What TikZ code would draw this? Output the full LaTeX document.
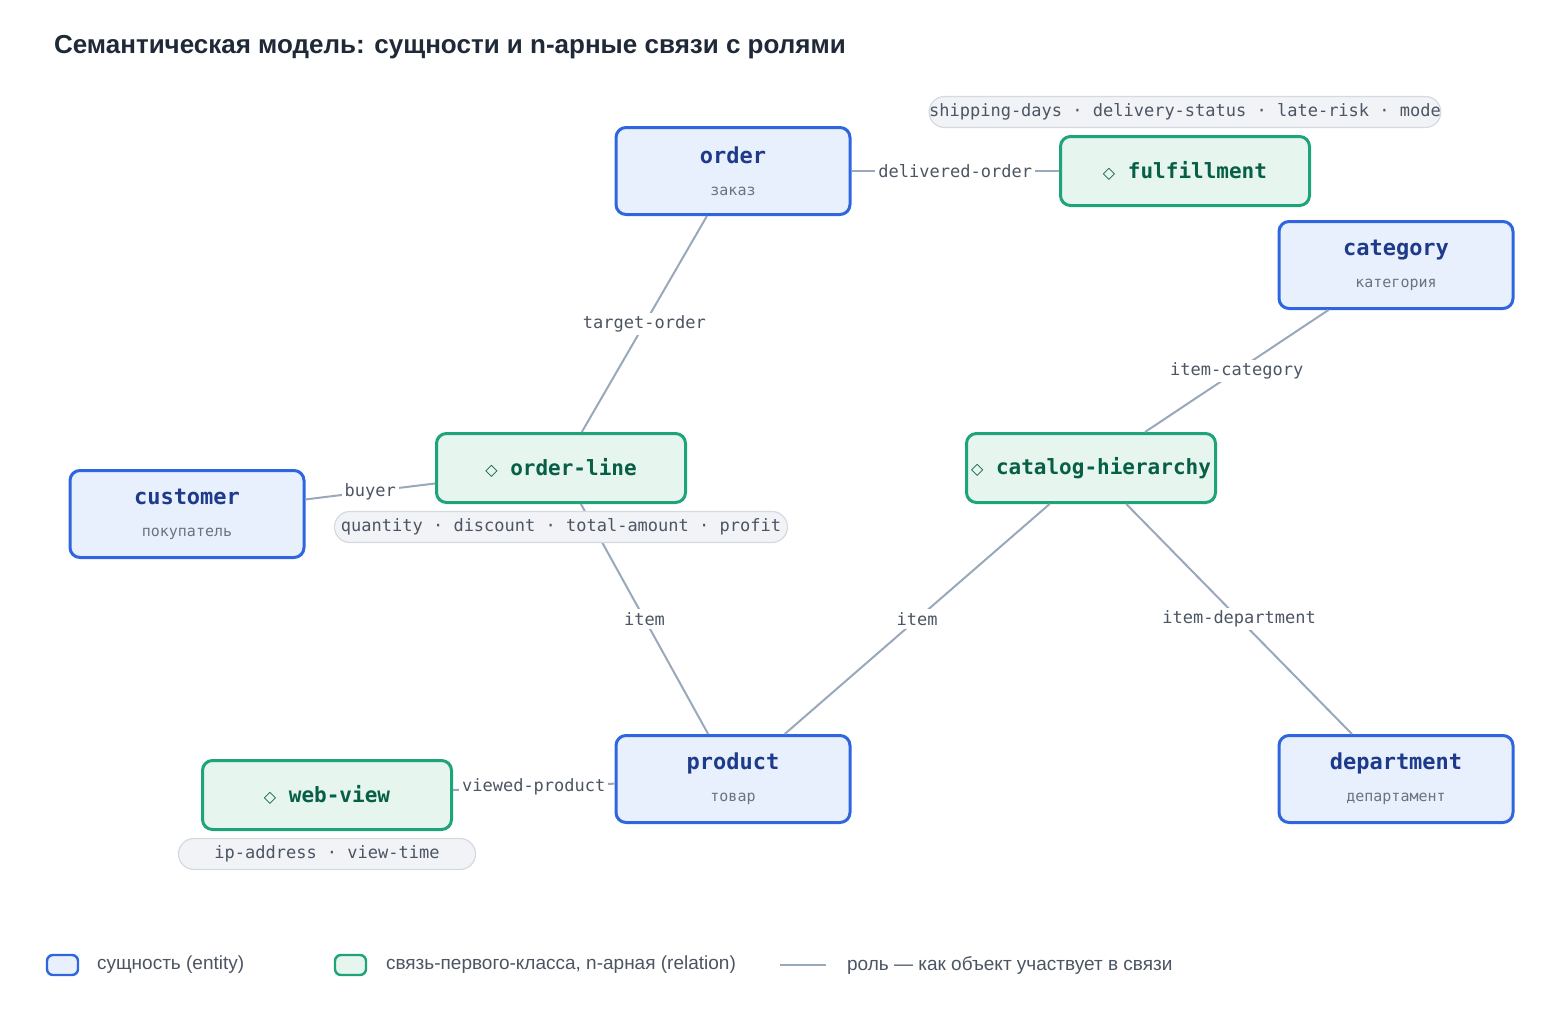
\documentclass[tikz,border=0pt]{standalone}
\usepackage{fontspec}
\setmainfont{Liberation Sans}
\setmonofont{DejaVu Sans Mono}
\newfontfamily\symf{DejaVu Sans}
\definecolor{entfill}{HTML}{E8F0FD}
\definecolor{entdraw}{HTML}{2F66E0}
\definecolor{enttext}{HTML}{1E3A8A}
\definecolor{relfill}{HTML}{E6F5EE}
\definecolor{reldraw}{HTML}{1FA37A}
\definecolor{reltext}{HTML}{065F46}
\definecolor{edgec}{HTML}{9AA8BC}
\definecolor{pillfill}{HTML}{F1F3F6}
\definecolor{pilldraw}{HTML}{D5DAE1}
\definecolor{pilltext}{HTML}{4B5563}
\definecolor{subc}{HTML}{6B7280}
\definecolor{titlec}{HTML}{1F2937}
\begin{document}
\begin{tikzpicture}[x=0.5pt,y=-0.5pt,
 ent/.style={draw=entdraw,fill=entfill,line width=1.5pt,rounded corners=5pt,minimum width=117pt,minimum height=43.5pt,align=center,inner sep=0pt},
 rel/.style={draw=reldraw,fill=relfill,line width=1.5pt,rounded corners=5pt,minimum width=124.5pt,minimum height=34.5pt,inner sep=0pt,text=reltext,font=\ttfamily\bfseries\fontsize{10.5}{12}\selectfont},
 pill/.style={draw=pilldraw,fill=pillfill,line width=0.6pt,rounded corners=7.75pt,minimum height=15.5pt,inner sep=0pt,text=pilltext,font=\ttfamily\fontsize{8.5}{10}\selectfont},
 edge/.style={draw=edgec,line width=1pt},
 lab/.style={fill=white,inner sep=1.5pt,text=pilltext,font=\ttfamily\fontsize{8.5}{10}\selectfont},
]
\useasboundingbox[fill=white] (0,0) rectangle (1560,1029);
\newcommand{\ent}[2]{{\ttfamily\bfseries\fontsize{11}{13}\selectfont\textcolor{enttext}{#1}}\\[4pt]{\ttfamily\fontsize{7.5}{9}\selectfont\textcolor{subc}{#2}}}
\newcommand{\dia}{{\symf\fontsize{8}{9}\selectfont ◇}\ }
\node[anchor=west,font=\bfseries\fontsize{13}{15}\selectfont,text=titlec] (title) at (47,47) {Семантическая модель: сущности и n-арные связи с ролями};

\node[ent] (order) at (733,171) {\ent{order}{заказ}};
\node[rel,minimum width=124.5pt] (ful) at (1185,171) {\dia fulfillment};
\node[ent] (cat) at (1396,265) {\ent{category}{категория}};
\node[rel] (ol) at (561,468) {\dia order-line};
\node[rel] (ch) at (1091,468) {\dia catalog-hierarchy};
\node[ent] (cust) at (187,514) {\ent{customer}{покупатель}};
\node[ent] (prod) at (733,779) {\ent{product}{товар}};
\node[ent] (dep) at (1396,779) {\ent{department}{департамент}};
\node[rel] (wv) at (327,795) {\dia web-view};

\draw[edge] (order) -- node[lab]{target-order} (ol);
\draw[edge] (cat) -- node[lab]{item-category} (ch);
\draw[edge] (cust) -- node[lab]{buyer} (ol);
\draw[edge] (ol) -- node[lab]{item} (prod);
\draw[edge] (ch) -- node[lab]{item} (prod);
\draw[edge] (ch) -- node[lab]{item-department} (dep);
\draw[edge] (order) -- node[lab]{delivered-order} (ful);
\draw[edge] (wv) -- node[lab]{viewed-product} (prod);

\node[pill,minimum width=235pt] (p1) at (1185,112) {shipping-days · delivery-status · late-risk · mode};
\node[pill,minimum width=226.5pt] (p2) at (561,527) {quantity · discount · total-amount · profit};
\node[pill,minimum width=148.5pt] (p3) at (327,854) {ip-address · view-time};

\node[draw=entdraw,fill=entfill,line width=1.2pt,rounded corners=3pt,minimum width=15.5pt,minimum height=10pt,inner sep=0pt] (l1) at (62.5,965) {};
\node[anchor=west,font=\fontsize{9.5}{11}\selectfont,text=pilltext] (l1t) at (90,965) {сущность (entity)};
\node[draw=reldraw,fill=relfill,line width=1.2pt,rounded corners=3pt,minimum width=15.5pt,minimum height=10pt,inner sep=0pt] (l2) at (350.5,965) {};
\node[anchor=west,font=\fontsize{9.5}{11}\selectfont,text=pilltext] (l2t) at (379,965) {связь-первого-класса, n-арная (relation)};
\coordinate (l3a) at (780,965);
\coordinate (l3b) at (826,965);
\draw[edge] (l3a) -- (l3b);
\node[anchor=west,font=\fontsize{9.5}{11}\selectfont,text=pilltext] (l3t) at (840,965) {роль — как объект участвует в связи};
\end{tikzpicture}
\end{document}
